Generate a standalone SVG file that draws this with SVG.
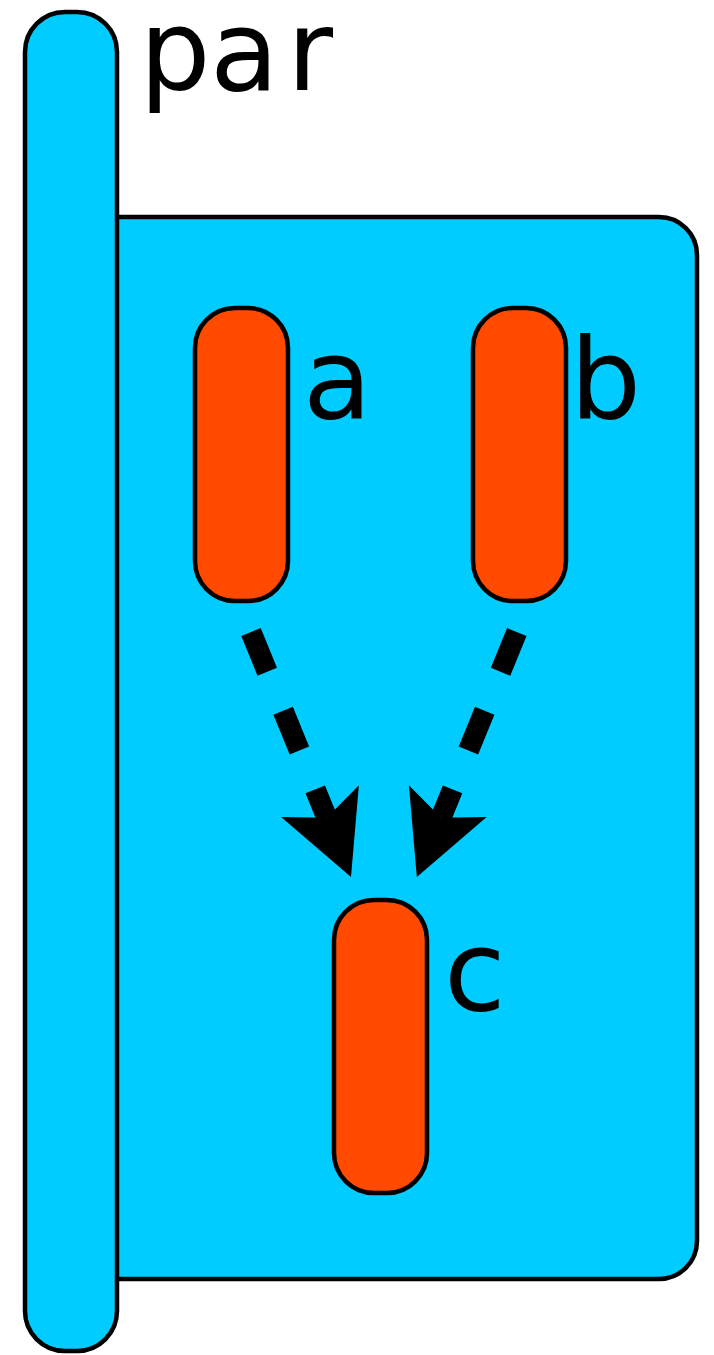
<svg xmlns="http://www.w3.org/2000/svg" width="714" height="1355" viewBox="0 0 714 1355">
  <style>
    .blue { fill: #00ccff; stroke: #000; stroke-width: 4.5; }
    .node { fill: #ff4a00; stroke: #000; stroke-width: 4.5; }
    .lbl { font-family: "DejaVu Sans", sans-serif; font-size: 112px; fill: #000; }
    .edge { fill: none; stroke: #000; stroke-width: 21; stroke-dasharray: 43 42; stroke-linecap: butt; }
  </style>
  <defs>
    <marker id="head" markerUnits="userSpaceOnUse" viewBox="-20 -45 90 90" markerWidth="90" markerHeight="90" refX="0" refY="0" orient="auto" overflow="visible">
      <path d="M64,0 L-18,-42 L0,0 L-18,42 Z" fill="#000"/>
    </marker>
  </defs>
  <g id="par">
    <rect class="blue" x="60" y="217" width="637" height="1062" rx="38" ry="38"/>
    <rect class="blue" x="25" y="12" width="92" height="1339" rx="40" ry="40"/>
    <text class="lbl" x="139.5 210 287" y="89.5">par</text>
  </g>
  <g id="a">
    <rect class="node" x="195" y="308" width="93" height="293" rx="40" ry="40"/>
    <text class="lbl" x="303" y="418">a</text>
  </g>
  <g id="b">
    <rect class="node" x="473" y="308" width="93" height="293" rx="40" ry="40"/>
    <text class="lbl" x="570" y="418">b</text>
  </g>
  <g id="c">
    <rect class="node" x="334" y="900" width="93" height="293" rx="40" ry="40"/>
    <text class="lbl" x="444" y="1010">c</text>
  </g>
  <g id="connectors">
    <line class="edge" x1="251" y1="632" x2="326.8" y2="817.7" marker-end="url(#head)"/>
    <line class="edge" x1="516.8" y1="632" x2="441" y2="817.7" marker-end="url(#head)"/>
  </g>
</svg>
